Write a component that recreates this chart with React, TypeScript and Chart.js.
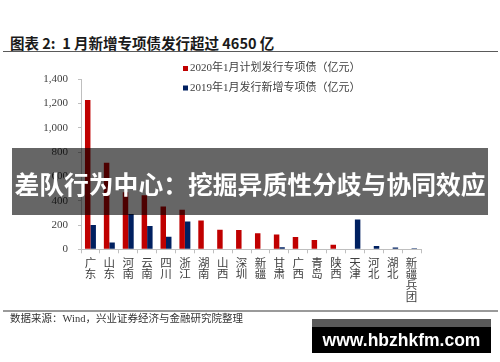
import React, { useEffect, useRef } from 'react';
import { Chart, registerables } from 'chart.js';

Chart.register(...registerables);

// ---- data ----
const categories = ['广东', '山东', '河南', '云南', '四川', '浙江', '湖南', '山西', '深圳', '新疆', '甘肃', '广西', '青岛', '陕西', '天津', '河北', '湖北', '新疆兵团'];
const label2020 = '2020年1月计划发行专项债（亿元）';
const label2019 = '2019年1月发行新增专项债（亿元）';
const plan2020 = [1230, 712, 470, 445, 352, 325, 238, 160, 158, 133, 121, 102, 77, 37, 0, 0, 0, 0];
const issued2019 = [201, 55, 290, 192, 104, 228, 0, 0, 0, 0, 17, 0, 0, 0, 246, 27, 15, 8];
const yMin = 0;
const yMax = 1400;
const yStep = 200;

const titleText = '图表 2:  1 月新增专项债发行超过 4650 亿';
const sourceText = '数据来源：Wind，兴业证券经济与金融研究院整理';
const bannerText = '差队行为中心：挖掘异质性分歧与协同效应';
const watermarkText = 'www.hbzhkfm.com';

const RED = '#C00000';
const NAVY = '#002060';
const AXIS = '#BFBFBF';
const TEXT = '#404040';

const legendPlugin = {
  id: 'fixedLegend',
  afterDraw(chart: any) {
    const ctx = chart.ctx;
    ctx.save();
    chart.data.datasets.forEach((ds: any, i: number) => {
      const y = 68.5 + i * 19.5;
      ctx.fillStyle = ds.backgroundColor;
      ctx.fillRect(183, y - 2.5, 5, 5);
      ctx.fillStyle = TEXT;
      ctx.font = "11px 'Liberation Serif', 'Noto Sans CJK SC', serif";
      ctx.textBaseline = 'middle';
      ctx.textAlign = 'left';
      ctx.fillText(ds.label, 190, y);
    });
    ctx.restore();
  },
};

export default function App() {
  const canvasRef = useRef<HTMLCanvasElement | null>(null);

  useEffect(() => {
    if (!canvasRef.current) return;
    const chart = new Chart(canvasRef.current, {
      type: 'bar',
      data: {
        labels: categories.map((c) => c.split('')),
        datasets: [
          { label: label2020, data: plan2020, backgroundColor: RED, borderWidth: 0, categoryPercentage: 0.58, barPercentage: 1.0 },
          { label: label2019, data: issued2019, backgroundColor: NAVY, borderWidth: 0, categoryPercentage: 0.58, barPercentage: 1.0 },
        ],
      },
      options: {
        animation: false,
        responsive: false,
        maintainAspectRatio: false,
        devicePixelRatio: 1,
        layout: { padding: { left: 31, right: 79, top: 79.3, bottom: 57.7 } },
        plugins: {
          legend: { display: false },
          tooltip: { enabled: false },
          title: { display: false },
        },
        scales: {
          x: {
            grid: { display: true, drawOnChartArea: false, drawTicks: true, tickLength: 4, color: AXIS, offset: true },
            border: { display: true, color: AXIS, width: 1 },
            ticks: {
              color: TEXT,
              padding: 3.5,
              maxRotation: 0,
              minRotation: 0,
              autoSkip: false,
              font: { family: "'Noto Sans CJK SC', sans-serif", size: 11.5, lineHeight: 0.98 },
            },
            afterFit(scale: any) {
              scale.height = 55;
            },
          },
          y: {
            min: yMin,
            max: yMax,
            grid: { display: true, drawOnChartArea: false, drawTicks: true, tickLength: 3, color: AXIS },
            border: { display: true, color: AXIS, width: 1 },
            ticks: {
              stepSize: yStep,
              color: TEXT,
              padding: 10,
              font: { family: "'Liberation Serif', serif", size: 11 },
              callback: (v: any) => Number(v).toLocaleString('en-US'),
            },
            afterFit(scale: any) {
              scale.width = 50;
            },
          },
        },
      },
      plugins: [legendPlugin],
    });
    return () => chart.destroy();
  }, []);

  return (
    <div style={{ position: 'absolute', left: 0, top: 0, width: 500, height: 362, background: '#fff', overflow: 'hidden' }}>
      <div
        style={{
          position: 'absolute', left: 10, top: 33, height: 20, lineHeight: '20px', fontSize: 14.5, fontWeight: 'bold',
          fontFamily: "'Noto Sans CJK SC', sans-serif", color: '#1a1a1a', whiteSpace: 'pre',
        }}
      >
        {titleText}
      </div>
      <div style={{ position: 'absolute', left: 3, top: 50.5, width: 495, height: 1.5, background: '#5a5a5a' }} />
      <canvas ref={canvasRef} width={500} height={362} style={{ position: 'absolute', left: 0, top: 0, width: 500, height: 362 }} />
      <div style={{ position: 'absolute', left: 3, top: 310, width: 495, height: 1.5, background: '#9a9a9a' }} />
      <div
        style={{
          position: 'absolute', left: 10, top: 311, height: 16, lineHeight: '16px', fontSize: 10.5,
          fontFamily: "'Liberation Serif', 'Noto Sans CJK SC', serif", color: '#333', whiteSpace: 'pre',
        }}
      >
        {sourceText}
      </div>
      <div
        style={{
          position: 'absolute', left: 12, top: 148, width: 476, height: 67, background: 'rgba(0,0,0,0.6)',
          color: '#fff', fontSize: 24.8, fontWeight: 'bold', fontFamily: "'Noto Sans CJK SC', sans-serif",
          display: 'flex', alignItems: 'center', justifyContent: 'center', paddingTop: 3, boxSizing: 'border-box', whiteSpace: 'pre',
        }}
      >
        {bannerText}
      </div>
      <div style={{ position: 'absolute', left: 312, top: 319, width: 179, height: 34, background: '#000' }}>
        <div style={{ position: 'absolute', left: 0, top: 0, width: 179, height: 8, background: '#595959' }} />
        <div
          style={{
            position: 'absolute', left: 0, top: 8, width: 179, height: 26, lineHeight: '26px', textAlign: 'center',
            color: '#fff', fontSize: 17.5, fontWeight: 'bold', fontFamily: "'Liberation Sans', Arial, sans-serif",
          }}
        >
          {watermarkText}
        </div>
      </div>
    </div>
  );
}
